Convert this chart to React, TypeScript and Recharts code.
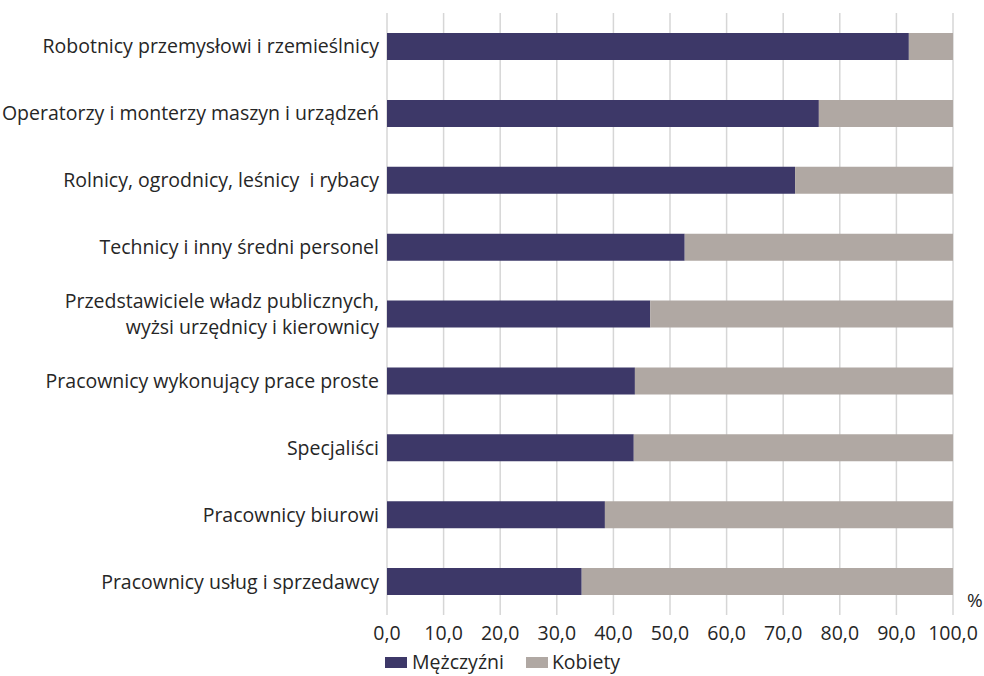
import { BarChart, Bar, XAxis, YAxis, CartesianGrid, Legend } from "recharts";

const categories = [
  "Robotnicy przemysłowi i rzemieślnicy",
  "Operatorzy i monterzy maszyn i urządzeń",
  "Rolnicy, ogrodnicy, leśnicy  i rybacy",
  "Technicy i inny średni personel",
  "Przedstawiciele władz publicznych,\nwyżsi urzędnicy i kierownicy",
  "Pracownicy wykonujący prace proste",
  "Specjaliści",
  "Pracownicy biurowi",
  "Pracownicy usług i sprzedawcy",
];

const men = [92.2, 76.3, 72.1, 52.6, 46.5, 43.8, 43.6, 38.5, 34.4];
const women = men.map((m) => +(100 - m).toFixed(1));

const xTicks = [0, 10, 20, 30, 40, 50, 60, 70, 80, 90, 100];

const MEN_COLOR = "#3d3868";
const WOMEN_COLOR = "#b0a8a3";
const FONT = "'Open Sans', sans-serif";
const TEXT = "#262626";

const data = categories.map((name, i) => ({ name, men: men[i], women: women[i] }));

const fmt = (v: number) => v.toFixed(1).replace(".", ",");

const CategoryTick = ({ x, y, payload }: any) => {
  const lines = String(payload.value).split("\n");
  const lh = 26;
  const start = -((lines.length - 1) * lh) / 2;
  return (
    <text x={x} y={y} textAnchor="end" fill={TEXT} fontSize={19.5} fontFamily={FONT}>
      {lines.map((l, i) => (
        <tspan key={i} x={x} dy={i === 0 ? start + 7 : lh} style={{ whiteSpace: "pre" }}>
          {l}
        </tspan>
      ))}
    </text>
  );
};

const LegendContent = () => (
  <div style={{ display: "flex", alignItems: "center", paddingLeft: 385, paddingTop: 3, fontFamily: FONT, fontSize: 19.5, color: TEXT, lineHeight: "24px" }}>
    <span style={{ width: 22, height: 11, background: MEN_COLOR, display: "inline-block", marginRight: 5 }} />
    <span style={{ marginRight: 22 }}>Mężczyźni</span>
    <span style={{ width: 22, height: 11, background: WOMEN_COLOR, display: "inline-block", marginRight: 4 }} />
    <span>Kobiety</span>
  </div>
);

export default function App() {
  return (
    <div style={{ position: "absolute", left: 0, top: 0, background: "#fff" }}>
      <BarChart
        width={984}
        height={676}
        data={data}
        layout="vertical"
        barCategoryGap={0}
        margin={{ top: 13, right: 31, left: 0, bottom: 0 }}
      >
        <CartesianGrid horizontal={false} stroke="#d6d6d6" strokeWidth={1.5} />
        <XAxis
          type="number"
          domain={[0, 100]}
          ticks={xTicks}
          tickFormatter={fmt}
          axisLine={false}
          tickLine={false}
          height={32}
          interval={0}
          tick={{ fontSize: 19.5, fill: TEXT, fontFamily: FONT, dy: 3 }}
          label={{
            content: ({ viewBox }: any) => (
              <text x={viewBox.x + viewBox.width + 14} y={viewBox.y - 8} fontSize={19} fill={TEXT} fontFamily={FONT}>
                %
              </text>
            ),
          }}
        />
        <YAxis
          type="category"
          dataKey="name"
          width={387}
          axisLine={false}
          tickLine={false}
          interval={0}
          tick={<CategoryTick />}
        />
        <Legend verticalAlign="bottom" height={29} content={<LegendContent />} />
        <Bar dataKey="men" stackId="a" fill={MEN_COLOR} barSize={27} isAnimationActive={false} />
        <Bar dataKey="women" stackId="a" fill={WOMEN_COLOR} barSize={27} isAnimationActive={false} />
      </BarChart>
    </div>
  );
}
